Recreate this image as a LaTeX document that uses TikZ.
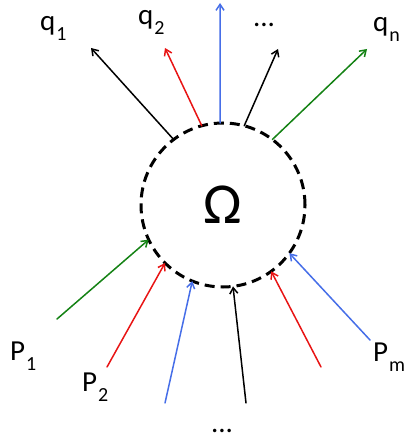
\documentclass[tikz,border=0pt]{standalone}
\usepackage{fontspec}
\setmainfont{Carlito}
\usetikzlibrary{arrows.meta}
\definecolor{flowgreen}{RGB}{20,130,20}
\definecolor{flowred}{RGB}{232,20,20}
\definecolor{flowblue}{RGB}{70,110,232}
\newcommand{\lowsub}[1]{\kern1pt\raisebox{-10pt}{\fontsize{20}{20}\selectfont #1}}
\begin{document}
\begin{tikzpicture}[x=1pt,y=-1pt, font=\fontsize{29}{32}\selectfont, line join=round, line cap=round,
	>={Straight Barb[length=6pt,width=8pt]},
	flow/.style={->, line width=1.5pt},
	lbl/.style={inner sep=0pt, anchor=base west}]
	\useasboundingbox (0,0) rectangle (406,438);
	\node[circle, draw, line cap=butt, dash pattern=on 10pt off 6pt, line width=3pt, minimum size=164pt,
		inner sep=0pt, outer sep=0pt, font=\fontsize{58}{60}\selectfont] (O) at (223,205) {Ω};
	\path
	(91,48) coordinate (q1)
	(165,48) coordinate (q2)
	(220,3) coordinate (q3)
	(278,49) coordinate (q4)
	(367,49) coordinate (q5)
	(57,319) coordinate (p1)
	(107,367) coordinate (p2)
	(165,403) coordinate (p3)
	(246,403) coordinate (p4)
	(321,367) coordinate (p5)
	(370,340) coordinate (p6);
	\foreach \a/\e/\c in {127/q1/black,105/q2/flowred,92/q3/flowblue,75/q4/black,53/q5/flowgreen}
		\draw[flow,\c] (O.\a) -- (\e);
	\foreach \e/\a/\c in {p1/205/flowgreen,p2/225/flowred,p3/248/flowblue,p4/277/black,p5/306/flowred,p6/324/flowblue}
		\draw[flow,\c] (\e) -- (O.\a);
	\node[lbl] (lq1) at (40,31) {q\lowsub{1}};
	\node[lbl] (lq2) at (138,25) {q\lowsub{2}};
	\node[inner sep=0pt, anchor=base] (lqd) at (264,27) {...};
	\node[lbl] (lqn) at (373,32) {q\lowsub{n}};
	\node[lbl] (lp1) at (10,360) {P\lowsub{1}};
	\node[lbl] (lp2) at (82,391) {P\lowsub{2}};
	\node[lbl] (lpm) at (373,361) {P\lowsub{m}};
	\node[inner sep=0pt, anchor=base] (lpd) at (222,432) {...};
\end{tikzpicture}
\end{document}
